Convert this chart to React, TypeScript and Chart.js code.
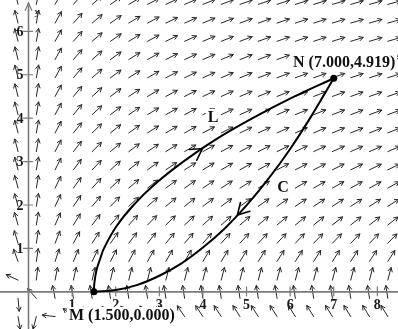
import React, { useEffect, useRef } from 'react';
import { Chart, registerables } from 'chart.js';

Chart.register(...registerables);

const W = 398;
const H = 329;

// Visible window in data units (44.5 px per unit on both axes)
const X_MIN = -0.562;
const X_MAX = 8.382;
const Y_MIN = -0.764;
const Y_MAX = 6.629;

const xTicks = [1, 2, 3, 4, 5, 6, 7, 8];
const yTicks = [1, 2, 3, 4, 5, 6];

// Path L, from M up to N
const pathLX = [1.5, 1.51, 1.56, 1.64, 1.73, 2.01, 2.41, 2.92, 3.55, 4.28, 5.14, 6.1, 7.0];
const pathLY = [0, 0.2, 0.5, 0.75, 1.0, 1.5, 2.0, 2.5, 3.0, 3.5, 4.0, 4.5, 4.919];

// Path C, listed from M to N (travelled from N back to M)
const pathCX = [1.5, 2.0, 2.5, 3.0, 3.5, 4.0, 4.5, 5.0, 5.5, 6.0, 6.5, 7.0];
const pathCY = [0, 0.04, 0.16, 0.37, 0.65, 1.02, 1.46, 1.99, 2.6, 3.29, 4.07, 4.919];

const pointM = { x: 1.5, y: 0 };
const pointN = { x: 7.0, y: 4.919 };

// Direction markers on the paths
const arrowOnL = 3.3; // y value on L
const arrowOnC = 4.79; // x value on C

// Sample points of the direction field
const fieldX = [-0.24, 0.18, 0.61, 1.03, 1.46, 1.88, 2.3, 2.73, 3.15, 3.58, 4.0, 4.42, 4.85, 5.27, 5.7, 6.12, 6.54, 6.97, 7.39, 7.82, 8.24];
const fieldY = [-0.57, -0.15, 0.27, 0.7, 1.12, 1.54, 1.97, 2.39, 2.81, 3.23, 3.66, 4.08, 4.5, 4.93, 5.35, 5.77, 6.19, 6.62];

// Field components F = (P, Q)
const fieldP = (x: number, y: number) => x * y;
const fieldQ = (x: number, y: number) => x + y;

const SERIF = '"Liberation Serif", "DejaVu Serif", serif';

function drawHead(ctx: CanvasRenderingContext2D, tx: number, ty: number, ux: number, uy: number, len: number, ang: number) {
  const back = Math.atan2(-uy, -ux);
  ctx.beginPath();
  ctx.moveTo(tx + Math.cos(back + ang) * len, ty + Math.sin(back + ang) * len);
  ctx.lineTo(tx, ty);
  ctx.lineTo(tx + Math.cos(back - ang) * len, ty + Math.sin(back - ang) * len);
  ctx.stroke();
}

function pointAlong(xs: number[], ys: number[], key: 'x' | 'y', v: number) {
  const arr = key === 'x' ? xs : ys;
  for (let i = 0; i < arr.length - 1; i++) {
    if (v >= arr[i] && v <= arr[i + 1]) {
      const t = (v - arr[i]) / (arr[i + 1] - arr[i]);
      return { x: xs[i] + t * (xs[i + 1] - xs[i]), y: ys[i] + t * (ys[i + 1] - ys[i]), i };
    }
  }
  return { x: xs[0], y: ys[0], i: 0 };
}

function labelBox(ctx: CanvasRenderingContext2D, text: string, x: number, baseline: number, align: CanvasTextAlign) {
  const w = ctx.measureText(text).width;
  const left = align === 'center' ? x - w / 2 : x;
  ctx.fillStyle = '#ffffff';
  ctx.fillRect(left - 2, baseline - 13, w + 4, 17);
  ctx.fillStyle = '#111111';
  ctx.textAlign = align;
  ctx.textBaseline = 'alphabetic';
  ctx.fillText(text, x, baseline);
}

const fieldPlot = {
  id: 'fieldPlot',
  beforeDatasetsDraw(chart: any) {
    const { ctx, scales } = chart;
    const sx = scales.x;
    const sy = scales.y;
    ctx.save();

    // direction field
    ctx.strokeStyle = '#262626';
    ctx.lineWidth = 1;
    ctx.lineCap = 'round';
    const len = 13;
    for (const gx of fieldX) {
      for (const gy of fieldY) {
        const p = fieldP(gx, gy);
        const q = fieldQ(gx, gy);
        const m = Math.hypot(p, q);
        if (m === 0) continue;
        const ux = p / m;
        const uy = -q / m;
        const x0 = sx.getPixelForValue(gx);
        const y0 = sy.getPixelForValue(gy);
        const x1 = x0 + ux * len;
        const y1 = y0 + uy * len;
        ctx.beginPath();
        ctx.moveTo(x0, y0);
        ctx.lineTo(x1, y1);
        ctx.stroke();
        drawHead(ctx, x1, y1, ux, uy, 4.5, 0.5);
      }
    }

    // axes
    const ox = sx.getPixelForValue(0);
    const oy = sy.getPixelForValue(0);
    ctx.strokeStyle = '#7a7a7a';
    ctx.lineWidth = 1.6;
    ctx.beginPath();
    ctx.moveTo(ox, H);
    ctx.lineTo(ox, 3);
    ctx.moveTo(0, oy);
    ctx.lineTo(W, oy);
    ctx.stroke();
    ctx.lineWidth = 1.2;
    drawHead(ctx, ox, 3, 0, -1, 8, 0.42);

    ctx.lineWidth = 1.2;
    ctx.beginPath();
    for (const t of xTicks) {
      const px = sx.getPixelForValue(t);
      ctx.moveTo(px, oy - 5);
      ctx.lineTo(px, oy + 4);
    }
    for (const t of yTicks) {
      const py = sy.getPixelForValue(t);
      ctx.moveTo(ox - 5, py);
      ctx.lineTo(ox + 4, py);
    }
    ctx.stroke();

    // tick labels
    ctx.fillStyle = '#1a1a1a';
    ctx.font = `bold 14px ${SERIF}`;
    ctx.textAlign = 'center';
    ctx.textBaseline = 'alphabetic';
    for (const t of xTicks) {
      ctx.fillText(String(t), sx.getPixelForValue(t), oy + 17);
    }
    ctx.textAlign = 'right';
    ctx.textBaseline = 'middle';
    for (const t of yTicks) {
      ctx.fillText(String(t), ox - 5, sy.getPixelForValue(t) + 1);
    }
    ctx.font = `11px ${SERIF}`;
    ctx.textAlign = 'left';
    ctx.fillText('y', ox + 6, 12);
    ctx.restore();
  },
  afterDatasetsDraw(chart: any) {
    const { ctx, scales } = chart;
    const sx = scales.x;
    const sy = scales.y;
    ctx.save();

    // direction markers on L (towards N) and C (towards M)
    ctx.strokeStyle = '#000000';
    ctx.lineWidth = 1.6;
    ctx.lineCap = 'round';
    const markers = [
      { xs: pathLX, ys: pathLY, key: 'y' as const, v: arrowOnL, dir: 1 },
      { xs: pathCX, ys: pathCY, key: 'x' as const, v: arrowOnC, dir: -1 },
    ];
    for (const mk of markers) {
      const pt = pointAlong(mk.xs, mk.ys, mk.key, mk.v);
      const i = pt.i;
      const ax = sx.getPixelForValue(mk.xs[i]);
      const ay = sy.getPixelForValue(mk.ys[i]);
      const bx = sx.getPixelForValue(mk.xs[i + 1]);
      const by = sy.getPixelForValue(mk.ys[i + 1]);
      const d = Math.hypot(bx - ax, by - ay);
      const ux = ((bx - ax) / d) * mk.dir;
      const uy = ((by - ay) / d) * mk.dir;
      drawHead(ctx, sx.getPixelForValue(pt.x), sy.getPixelForValue(pt.y), ux, uy, 13, 0.52);
    }

    // labels
    ctx.font = `bold 16px ${SERIF}`;
    labelBox(ctx, 'N (7.000,4.919)', 293, 67, 'left');
    labelBox(ctx, 'M (1.500,0.000)', 69, 320, 'left');
    labelBox(ctx, 'L', 213, 122, 'center');
    labelBox(ctx, 'C', 283, 192, 'center');
    ctx.restore();
  },
};

export default function App() {
  const canvasRef = useRef<HTMLCanvasElement | null>(null);

  useEffect(() => {
    if (!canvasRef.current) return;
    const chart = new Chart(canvasRef.current, {
      type: 'scatter',
      data: {
        datasets: [
          {
            label: 'L',
            data: pathLX.map((x, i) => ({ x, y: pathLY[i] })),
            showLine: true,
            borderColor: '#000000',
            borderWidth: 2,
            pointRadius: 0,
            tension: 0.4,
          },
          {
            label: 'C',
            data: pathCX.map((x, i) => ({ x, y: pathCY[i] })),
            showLine: true,
            borderColor: '#000000',
            borderWidth: 2,
            pointRadius: 0,
            tension: 0.4,
          },
          {
            label: 'M, N',
            data: [pointM, pointN],
            showLine: false,
            pointRadius: 3.5,
            backgroundColor: '#000000',
            borderColor: '#000000',
            borderWidth: 0,
          },
        ],
      },
      options: {
        responsive: false,
        animation: false,
        devicePixelRatio: 1,
        layout: { padding: 0 },
        plugins: {
          legend: { display: false },
          tooltip: { enabled: false },
        },
        scales: {
          x: { type: 'linear', min: X_MIN, max: X_MAX, display: false },
          y: { type: 'linear', min: Y_MIN, max: Y_MAX, display: false },
        },
      },
      plugins: [fieldPlot],
    });
    return () => chart.destroy();
  }, []);

  return (
    <div style={{ position: 'absolute', left: 0, top: 0, width: W, height: H, background: '#ffffff' }}>
      <canvas ref={canvasRef} width={W} height={H} style={{ display: 'block' }} />
    </div>
  );
}
